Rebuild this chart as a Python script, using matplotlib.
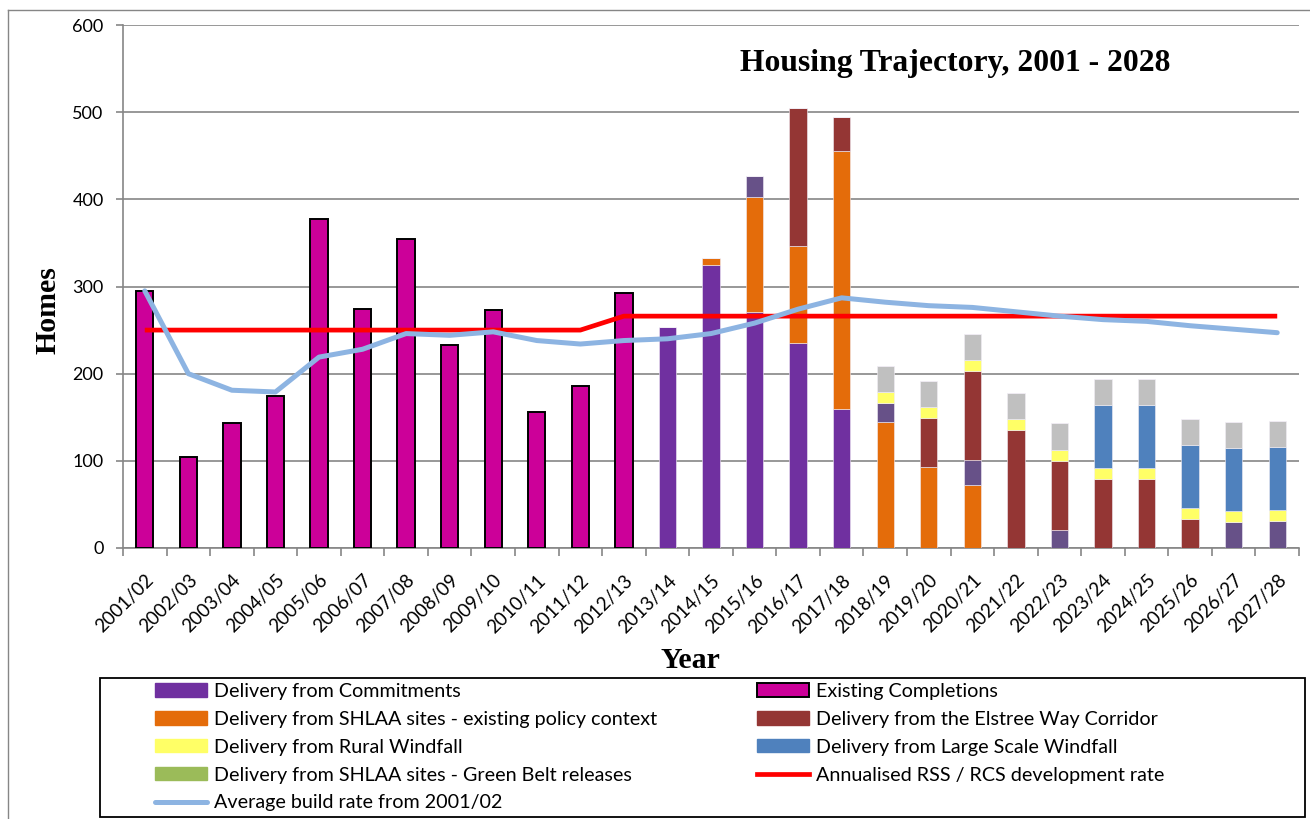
import numpy as np
import matplotlib
matplotlib.use("Agg")
import matplotlib.pyplot as plt
from matplotlib.patches import Patch, Rectangle
from matplotlib.lines import Line2D

# ---- data ----------------------------------------------------------------- #
years = ["2001/02", "2002/03", "2003/04", "2004/05", "2005/06", "2006/07",
         "2007/08", "2008/09", "2009/10", "2010/11", "2011/12", "2012/13",
         "2013/14", "2014/15", "2015/16", "2016/17", "2017/18", "2018/19",
         "2019/20", "2020/21", "2021/22", "2022/23", "2023/24", "2024/25",
         "2025/26", "2026/27", "2027/28"]

completions = [295, 104, 143, 174, 377, 274, 355, 233, 273, 156, 186, 292,
               0, 0, 0, 0, 0, 0, 0, 0, 0, 0, 0, 0, 0, 0, 0]
commitments = [0, 0, 0, 0, 0, 0, 0, 0, 0, 0, 0, 0,
               253, 325, 271, 235, 160, 0, 0, 0, 0, 0, 0, 0, 0, 0, 0]
shlaa_existing = [0, 0, 0, 0, 0, 0, 0, 0, 0, 0, 0, 0,
                  0, 8, 132, 112, 296, 144, 93, 72, 0, 0, 0, 0, 0, 0, 0]
other_sites = [0, 0, 0, 0, 0, 0, 0, 0, 0, 0, 0, 0,
               0, 0, 24, 0, 0, 22, 0, 29, 0, 21, 0, 0, 0, 30, 31]
elstree = [0, 0, 0, 0, 0, 0, 0, 0, 0, 0, 0, 0,
           0, 0, 0, 158, 38, 0, 56, 102, 135, 79, 79, 79, 33, 0, 0]
rural_windfall = [0, 0, 0, 0, 0, 0, 0, 0, 0, 0, 0, 0,
                  0, 0, 0, 0, 0, 13, 13, 13, 13, 13, 13, 13, 13, 13, 13]
large_windfall = [0, 0, 0, 0, 0, 0, 0, 0, 0, 0, 0, 0,
                  0, 0, 0, 0, 0, 0, 0, 0, 0, 0, 72, 72, 72, 72, 72]
small_windfall = [0, 0, 0, 0, 0, 0, 0, 0, 0, 0, 0, 0,
                  0, 0, 0, 0, 0, 30, 30, 30, 30, 30, 30, 30, 30, 30, 30]
green_belt = [0] * 27

rss_rate = [250, 250, 250, 250, 250, 250, 250, 250, 250, 250, 250,
            266, 266, 266, 266, 266, 266, 266, 266, 266, 266, 266, 266,
            266, 266, 266, 266]
avg_rate = [295, 200, 181, 179, 219, 228, 246, 244, 248, 238, 234, 238,
            240, 246, 258, 274, 287, 282, 278, 276, 271, 266, 262, 260,
            255, 251, 247]

# ---- styling ------------------------------------------------------------- #
SANS = "Lato"
SERIF = "Liberation Serif"
GRID = "#868686"
C_COMMIT = "#7030A0"
C_EXIST = "#CC0099"
C_SHLAA = "#E46C0A"
C_OTHER = "#675188"
C_ELSTREE = "#943634"
C_RURAL = "#FFFF66"
C_LARGE = "#4F81BD"
C_SMALL = "#C0C0C0"
C_GREEN = "#9BBB59"
C_RSS = "#FF0000"
C_AVG = "#8DB4E2"

W, H = 1310, 819
fig = plt.figure(figsize=(W / 100, H / 100), dpi=100)
ax = fig.add_axes([123 / W, 1 - 548 / H, (1299 - 123) / W, (548 - 25) / H])

x = np.arange(len(years))
bw = 0.40

ax.bar(x, completions, bw, color=C_EXIST, edgecolor="black", linewidth=1.4,
       zorder=3)

stack = [(commitments, C_COMMIT), (shlaa_existing, C_SHLAA),
         (other_sites, C_OTHER), (elstree, C_ELSTREE),
         (rural_windfall, C_RURAL), (large_windfall, C_LARGE),
         (small_windfall, C_SMALL), (green_belt, C_GREEN)]
bottom = np.zeros(len(years))
for vals, col in stack:
    vals = np.array(vals, dtype=float)
    ax.bar(x, vals, bw, bottom=bottom, color=col, edgecolor="#F2EEF6",
           linewidth=0.4, zorder=3)
    bottom += vals

ax.plot(x, rss_rate, color=C_RSS, lw=3.4, zorder=4, solid_capstyle="butt")
ax.plot(x, avg_rate, color=C_AVG, lw=3.6, zorder=5,
        solid_capstyle="round", solid_joinstyle="round")

ax.set_xlim(-0.5, len(years) - 0.5)
ax.set_ylim(0, 600)
ax.set_yticks(range(0, 601, 100))
ax.yaxis.grid(True, color=GRID, lw=1.2, zorder=0)
ax.set_axisbelow(True)
for s in ("top", "right"):
    ax.spines[s].set_visible(False)
for s in ("left", "bottom"):
    ax.spines[s].set_color(GRID)
    ax.spines[s].set_linewidth(1.2)

ax.set_xticks(x)
ax.set_xticks(np.arange(-0.5, len(years)), minor=True)
ax.tick_params(axis="x", which="major", length=0, pad=17)
ax.tick_params(axis="x", which="minor", length=6, width=1.2, color=GRID)
ax.tick_params(axis="y", length=5, width=1.2, color=GRID, pad=9)
ax.set_xticklabels(years, rotation=45, ha="right", rotation_mode="anchor",
                   fontsize=13.5, family=SANS)
for lab in ax.get_yticklabels():
    lab.set_fontsize(13)
    lab.set_family(SANS)

fig.text(955 / W, 1 - 63 / H, "Housing Trajectory, 2001 - 2028",
         ha="center", va="center", fontsize=22.8, fontweight="bold",
         family=SERIF)
fig.text(48 / W, 1 - 310 / H, "Homes", rotation=90, ha="center",
         va="center", fontsize=21.5, fontweight="bold", family=SERIF)
fig.text(690 / W, 1 - 661 / H, "Year", ha="center", va="center",
         fontsize=21.5, fontweight="bold", family=SERIF)

# outer chart border
fig.add_artist(Line2D([8 / W, 8 / W], [0, 1 - 10 / H], color=GRID, lw=1.0,
                      transform=fig.transFigure))
fig.add_artist(Line2D([8 / W, 1], [1 - 10 / H, 1 - 10 / H], color=GRID,
                      lw=1.0, transform=fig.transFigure))

# ---- legend ------------------------------------------------------------- #
fig.add_artist(Rectangle((100 / W, 2 / H), 1205 / W, 139 / H,
                         transform=fig.transFigure, fill=False,
                         edgecolor="black", lw=1.3))

left_items = [
    (Patch(color=C_COMMIT), "Delivery from Commitments"),
    (Patch(color=C_SHLAA), "Delivery from SHLAA sites - existing policy context"),
    (Patch(color=C_RURAL), "Delivery from Rural Windfall"),
    (Patch(color=C_GREEN), "Delivery from SHLAA sites - Green Belt releases"),
    (Line2D([], [], color=C_AVG, lw=3.6, solid_capstyle="round"),
     "Average build rate from 2001/02"),
]
right_items = [
    (Patch(facecolor=C_EXIST, edgecolor="black", lw=1.4), "Existing Completions"),
    (Patch(color=C_ELSTREE), "Delivery from the Elstree Way Corridor"),
    (Patch(color=C_LARGE), "Delivery from Large Scale Windfall"),
    (Line2D([], [], color=C_RSS, lw=3.4), "Annualised RSS / RCS development rate"),
]

leg_kw = dict(loc="upper left", frameon=False, borderpad=0, borderaxespad=0,
              handlelength=2.66, handleheight=0.66, handletextpad=0.31,
              labelspacing=0.55, prop={"family": SANS, "size": 14.2})
fig.legend([h for h, _ in left_items], [t for _, t in left_items],
           bbox_to_anchor=(155 / W, 1 - 683 / H), **leg_kw)
fig.legend([h for h, _ in right_items], [t for _, t in right_items],
           bbox_to_anchor=(757 / W, 1 - 683 / H), **leg_kw)

fig.savefig("out.png", dpi=100)
